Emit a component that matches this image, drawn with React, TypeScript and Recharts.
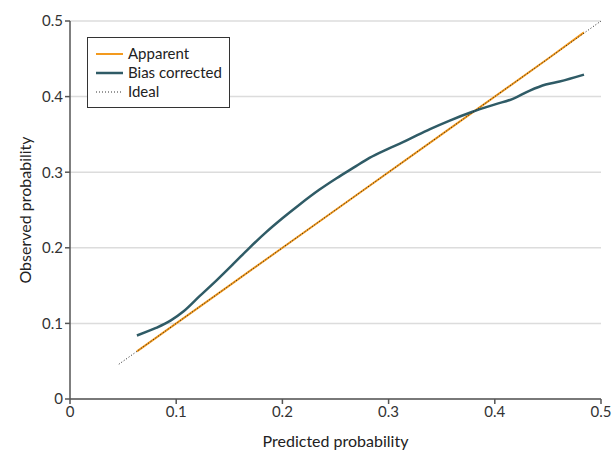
import React from 'react';
import { LineChart, Line, XAxis, YAxis, CartesianGrid } from 'recharts';

const ticks = [0, 0.1, 0.2, 0.3, 0.4, 0.5];

const apparentX = [0.063, 0.15, 0.25, 0.35, 0.45, 0.484];
const apparentY = [0.063, 0.15, 0.25, 0.35, 0.45, 0.485];

const biasX = [0.063, 0.081, 0.095, 0.107, 0.122, 0.138, 0.154, 0.169, 0.185, 0.2, 0.216, 0.235, 0.251, 0.267, 0.282, 0.298, 0.314, 0.327, 0.339, 0.357, 0.379, 0.401, 0.417, 0.433, 0.448, 0.461, 0.484];
const biasY = [0.084, 0.094, 0.104, 0.116, 0.136, 0.157, 0.179, 0.2, 0.221, 0.239, 0.257, 0.277, 0.292, 0.306, 0.319, 0.33, 0.34, 0.349, 0.357, 0.368, 0.38, 0.39, 0.397, 0.408, 0.416, 0.42, 0.429];

const idealX = [0.046, 0.5];
const idealY = [0.046, 0.5];

const toPts = (xs: number[], ys: number[]) => xs.map((x, i) => ({ x, y: ys[i] }));

const apparent = toPts(apparentX, apparentY);
const bias = toPts(biasX, biasY);
const ideal = toPts(idealX, idealY);

const FONT = 'Lato';
const ORANGE = '#f39a1e';
const TEAL = '#2f5b66';
const AXIS = '#555';

const fmt = (v: number) => (v === 0 ? '0' : v.toFixed(1));

const LegendBox = () => (
  <div
    style={{
      position: 'absolute',
      left: 87,
      top: 37,
      border: '1px solid #333',
      background: '#fff',
      width: 143,
      height: 71,
      boxSizing: 'border-box',
      padding: '6px 0 0 8px',
      fontFamily: FONT,
      fontSize: 15,
      color: '#222',
      lineHeight: '19px',
    }}
  >
    {[
      { label: 'Apparent', color: ORANGE, dash: undefined, w: 2 },
      { label: 'Bias corrected', color: TEAL, dash: undefined, w: 2.5 },
      { label: 'Ideal', color: '#333', dash: '1 2', w: 1 },
    ].map((e) => (
      <div key={e.label} style={{ display: 'flex', alignItems: 'center', height: 19 }}>
        <svg width={27} height={10} style={{ marginRight: 5 }}>
          <line x1={0} y1={5} x2={27} y2={5} stroke={e.color} strokeWidth={e.w} strokeDasharray={e.dash} />
        </svg>
        <span>{e.label}</span>
      </div>
    ))}
  </div>
);

export default function App() {
  return (
    <div style={{ position: 'absolute', left: 0, top: 0, width: 616, height: 451, background: '#fff' }}>
      <LineChart width={616} height={451} margin={{ top: 21, right: 15, bottom: 0, left: 0 }}>
        <CartesianGrid vertical={false} stroke="#dcdcdc" strokeWidth={1.5} />
        <XAxis
          type="number"
          dataKey="x"
          domain={[0, 0.5]}
          ticks={ticks}
          tickFormatter={fmt}
          allowDataOverflow
          height={52}
          stroke={AXIS}
          strokeWidth={1.5}
          tickSize={5}
          tick={{ fill: '#333', fontSize: 15, fontFamily: FONT }}
          label={{ value: 'Predicted probability', position: 'insideBottom', offset: 4, fill: '#222', fontSize: 16, fontFamily: FONT }}
        />
        <YAxis
          type="number"
          dataKey="y"
          domain={[0, 0.5]}
          ticks={ticks}
          tickFormatter={fmt}
          allowDataOverflow
          width={70}
          stroke={AXIS}
          strokeWidth={1.5}
          tickSize={5}
          tick={{ fill: '#333', fontSize: 15, fontFamily: FONT }}
          label={{ value: 'Observed probability', angle: -90, position: 'insideLeft', offset: 25, style: { textAnchor: 'middle' }, fill: '#222', fontSize: 16, fontFamily: FONT }}
        />
        <Line data={apparent} dataKey="y" type="linear" stroke={ORANGE} strokeWidth={2} dot={false} isAnimationActive={false} />
        <Line data={bias} dataKey="y" type="monotone" stroke={TEAL} strokeWidth={2.5} dot={false} isAnimationActive={false} />
        <Line data={ideal} dataKey="y" type="linear" stroke="#222" strokeWidth={1} strokeDasharray="1 2" dot={false} isAnimationActive={false} />
      </LineChart>
      <LegendBox />
    </div>
  );
}
